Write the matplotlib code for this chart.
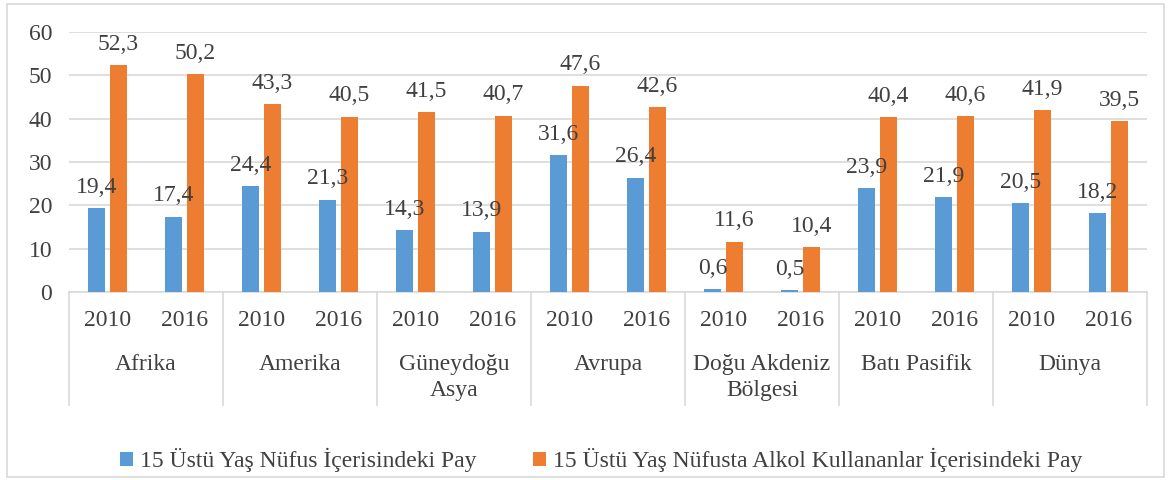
import numpy as np
import matplotlib
matplotlib.use("Agg")
import matplotlib.pyplot as plt
from matplotlib.patches import Rectangle
from matplotlib.transforms import blended_transform_factory

plt.rcParams['font.family'] = 'serif'
plt.rcParams['font.serif'] = ['Liberation Serif', 'DejaVu Serif']

# podatki
bolgeler = ["Afrika", "Amerika", "Güneydoğu\nAsya", "Avrupa",
            "Doğu Akdeniz\nBölgesi", "Batı Pasifik", "Dünya"]
yillar = ["2010", "2016"]
nufus_pay = [19.4, 17.4, 24.4, 21.3, 14.3, 13.9, 31.6, 26.4, 0.6, 0.5, 23.9, 21.9, 20.5, 18.2]
alkol_pay = [52.3, 50.2, 43.3, 40.5, 41.5, 40.7, 47.6, 42.6, 11.6, 10.4, 40.4, 40.6, 41.9, 39.5]
seri_adlari = ["15 Üstü Yaş Nüfus İçerisindeki Pay",
               "15 Üstü Yaş Nüfusta Alkol Kullananlar İçerisindeki Pay"]

mavi = "#5B9BD5"
turuncu = "#ED7D31"
siva = "#D9D9D9"
tekst = "#404040"
fs = 17

W, H = 1171, 480
fig = plt.figure(figsize=(W/100, H/100), dpi=100)
ax = fig.add_axes([69/W, 1-292/H, (1147-69)/W, 260/H])

x = np.arange(len(nufus_pay))
w = 0.22
b1 = ax.bar(x - 0.143, nufus_pay, w, color=mavi, label=seri_adlari[0], zorder=3)
b2 = ax.bar(x + 0.143, alkol_pay, w, color=turuncu, label=seri_adlari[1], zorder=3)

for bars, vals in ((b1, nufus_pay), (b2, alkol_pay)):
    for r, v in zip(bars, vals):
        ax.annotate(f"{v:.1f}".replace(".", ","), (r.get_x() + r.get_width()/2, v),
                    xytext=(0, 11), textcoords="offset points", ha="center", va="baseline",
                    fontsize=fs, color=tekst)

ax.set_xlim(-0.5, len(x) - 0.5)
ax.set_ylim(0, 60)
ax.set_yticks(range(0, 61, 10))
ax.yaxis.grid(True, color=siva, lw=1.2, zorder=0)
ax.tick_params(axis="y", length=0, labelsize=fs, labelcolor=tekst, pad=12)
ax.tick_params(axis="x", length=0, labelbottom=False)
for s in ["top", "right", "left"]:
    ax.spines[s].set_visible(False)
ax.spines["bottom"].set_color(siva)
ax.spines["bottom"].set_linewidth(1.2)

# kategorije na x osi (dve ravni)
tr = blended_transform_factory(ax.transData, ax.transAxes)
y_yil = -(320 - 292) / 260
y_bolge = -(354 - 292) / 260
y_dno = -(405 - 292) / 260
for i in range(len(x)):
    ax.text(x[i], y_yil, yillar[i % 2], transform=tr, ha="center", va="center",
            fontsize=fs, color=tekst)
for g, ime in enumerate(bolgeler):
    ax.text(2*g + 0.5, y_bolge, ime, transform=tr, ha="center", va="top",
            fontsize=fs, color=tekst, linespacing=1.3)
for g in range(len(bolgeler) + 1):
    ax.plot([2*g - 0.5, 2*g - 0.5], [0, y_dno], transform=tr, color=siva,
            lw=1.2, clip_on=False)

fig.legend(handles=[b1, b2], labels=seri_adlari, loc="center",
           bbox_to_anchor=(601/W, 1 - 460/H), ncol=2, frameon=False,
           fontsize=fs, labelcolor=tekst, handlelength=0.55, handleheight=0.55,
           handletextpad=0.3, columnspacing=2.4)

fig.patches.append(Rectangle((7/W, 1-477/H), (1164-7)/W, (477-4)/H,
                             transform=fig.transFigure, fill=False,
                             edgecolor=siva, lw=1.2))

fig.savefig("out.png", dpi=100)
